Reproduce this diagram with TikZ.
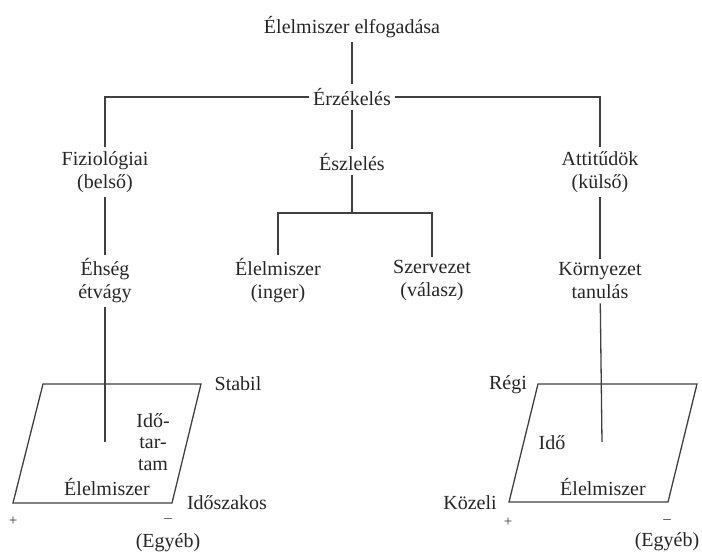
\documentclass[tikz,border=0pt]{standalone}
\usepackage{fontspec}
\setmainfont{Liberation Serif}
\tikzset{
	lbl/.style={inner sep=4pt,align=center,text=black!85,font=\fontsize{20}{23}\selectfont},
	sgn/.style={inner sep=1pt,text=black!80,font=\fontsize{15}{16}\selectfont},
	ln/.style={line width=1.3pt,draw=black!75}
}
\begin{document}
\begin{tikzpicture}[x=1pt,y=1pt]
		\useasboundingbox (0,0) rectangle (702,-556);
		\node[lbl] (elf) at (352,-27) {Élelmiszer elfogadása};
		\node[lbl] (erz) at (352,-97) {Érzékelés};
		\node[lbl] (fiz) at (105,-172) {Fiziológiai\\(belső)};
		\node[lbl] (esz) at (352,-162) {Észlelés};
		\node[lbl] (att) at (600,-172) {Attitűdök\\(külső)};
		\node[lbl] (ehs) at (105,-281) {Éhség\\étvágy};
		\node[lbl] (inger) at (278,-281) {Élelmiszer\\(inger)};
		\node[lbl] (szerv) at (432,-281) {Szervezet\\(válasz)};
		\node[lbl] (korny) at (600,-281) {Környezet\\tanulás};
		\coordinate (esp) at (352,-213);
		\coordinate (lend) at (105,-442);
		\coordinate (rend) at (602,-442);
		\draw[ln] (elf) -- (erz);
		\draw[ln] (erz) -| (fiz);
		\draw[ln] (erz) -| (att);
		\draw[ln] (erz) -- (esz);
		\draw[ln] (esz) -- (esp);
		\draw[ln] (inger) |- (esp) -| (szerv);
		\draw[ln] (fiz) -- (ehs);
		\draw[ln] (att) -- (korny);
		\draw[ln] (ehs) -- (lend);
		\draw[ln] (korny) -- (rend);
		\draw[ln] (43,-384) -- (201,-384) -- (172,-503) -- (13,-503) -- cycle;
		\draw[ln] (538,-384) -- (697,-384) -- (668,-502) -- (509,-502) -- cycle;
		\node[lbl] (stabil) at (238,-384) {Stabil};
		\node[lbl,font=\fontsize{20}{21.5}\selectfont] (tartam) at (153,-442) {Idő-\\tar-\\tam};
		\node[lbl] (lelm) at (107,-487) {Élelmiszer};
		\node[lbl] (idosz) at (227,-503) {Időszakos};
		\node[sgn] (lplus) at (13,-521) {+};
		\node[sgn] (lminus) at (168,-521) {--};
		\node[lbl] (legy) at (168,-543) {(Egyéb)};
		\node[lbl] (regi) at (508,-385) {Régi};
		\node[lbl] (ido) at (552,-443) {Idő};
		\node[lbl] (relm) at (603,-487) {Élelmiszer};
		\node[lbl] (kozeli) at (470,-503) {Közeli};
		\node[sgn] (rplus) at (508,-522) {+};
		\node[sgn] (rminus) at (667,-522) {--};
		\node[lbl] (regy) at (667,-542) {(Egyéb)};
	\end{tikzpicture}
\end{document}
